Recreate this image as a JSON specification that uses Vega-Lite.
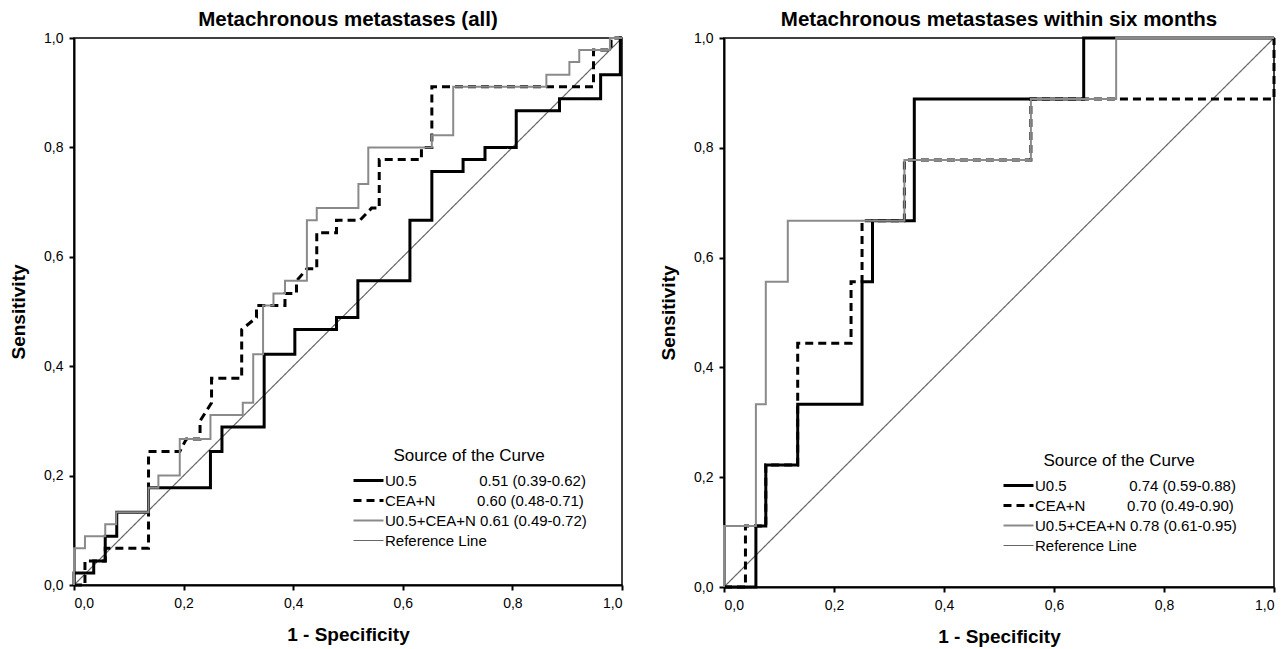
{
"$schema": "https://vega.github.io/schema/vega-lite/v6.json",
"padding": {"left": 8, "top": 8, "right": 5, "bottom": 0},
"spacing": 29,
"datasets": {
"all": [
{"curve":"Reference Line","i":0,"x":0,"y":0},{"curve":"Reference Line","i":1,"x":1,"y":1},
{"curve":"U0.5","i":0,"x":0,"y":0},{"curve":"U0.5","i":1,"x":0,"y":0.022},{"curve":"U0.5","i":2,"x":0.036,"y":0.022},{"curve":"U0.5","i":3,"x":0.036,"y":0.044},{"curve":"U0.5","i":4,"x":0.057,"y":0.044},{"curve":"U0.5","i":5,"x":0.057,"y":0.089},{"curve":"U0.5","i":6,"x":0.078,"y":0.089},{"curve":"U0.5","i":7,"x":0.078,"y":0.133},{"curve":"U0.5","i":8,"x":0.136,"y":0.133},{"curve":"U0.5","i":9,"x":0.136,"y":0.178},{"curve":"U0.5","i":10,"x":0.249,"y":0.178},{"curve":"U0.5","i":11,"x":0.249,"y":0.244},{"curve":"U0.5","i":12,"x":0.27,"y":0.244},{"curve":"U0.5","i":13,"x":0.27,"y":0.289},{"curve":"U0.5","i":14,"x":0.347,"y":0.289},{"curve":"U0.5","i":15,"x":0.347,"y":0.422},{"curve":"U0.5","i":16,"x":0.403,"y":0.422},{"curve":"U0.5","i":17,"x":0.403,"y":0.467},{"curve":"U0.5","i":18,"x":0.479,"y":0.467},{"curve":"U0.5","i":19,"x":0.479,"y":0.489},{"curve":"U0.5","i":20,"x":0.518,"y":0.489},{"curve":"U0.5","i":21,"x":0.518,"y":0.556},{"curve":"U0.5","i":22,"x":0.613,"y":0.556},{"curve":"U0.5","i":23,"x":0.613,"y":0.667},{"curve":"U0.5","i":24,"x":0.653,"y":0.667},{"curve":"U0.5","i":25,"x":0.653,"y":0.756},{"curve":"U0.5","i":26,"x":0.71,"y":0.756},{"curve":"U0.5","i":27,"x":0.71,"y":0.778},{"curve":"U0.5","i":28,"x":0.75,"y":0.778},{"curve":"U0.5","i":29,"x":0.75,"y":0.8},{"curve":"U0.5","i":30,"x":0.807,"y":0.8},{"curve":"U0.5","i":31,"x":0.807,"y":0.867},{"curve":"U0.5","i":32,"x":0.886,"y":0.867},{"curve":"U0.5","i":33,"x":0.886,"y":0.889},{"curve":"U0.5","i":34,"x":0.961,"y":0.889},{"curve":"U0.5","i":35,"x":0.961,"y":0.933},{"curve":"U0.5","i":36,"x":0.997,"y":0.933},{"curve":"U0.5","i":37,"x":0.997,"y":1},{"curve":"U0.5","i":38,"x":1,"y":1},
{"curve":"CEA+N","i":0,"x":0,"y":0},{"curve":"CEA+N","i":1,"x":0.02,"y":0},{"curve":"CEA+N","i":2,"x":0.02,"y":0.044},{"curve":"CEA+N","i":3,"x":0.057,"y":0.044},{"curve":"CEA+N","i":4,"x":0.057,"y":0.067},{"curve":"CEA+N","i":5,"x":0.136,"y":0.067},{"curve":"CEA+N","i":6,"x":0.136,"y":0.244},{"curve":"CEA+N","i":7,"x":0.193,"y":0.244},{"curve":"CEA+N","i":8,"x":0.205,"y":0.267},{"curve":"CEA+N","i":9,"x":0.23,"y":0.267},{"curve":"CEA+N","i":10,"x":0.23,"y":0.3},{"curve":"CEA+N","i":11,"x":0.251,"y":0.333},{"curve":"CEA+N","i":12,"x":0.251,"y":0.378},{"curve":"CEA+N","i":13,"x":0.306,"y":0.378},{"curve":"CEA+N","i":14,"x":0.306,"y":0.467},{"curve":"CEA+N","i":15,"x":0.333,"y":0.489},{"curve":"CEA+N","i":16,"x":0.333,"y":0.511},{"curve":"CEA+N","i":17,"x":0.385,"y":0.511},{"curve":"CEA+N","i":18,"x":0.385,"y":0.533},{"curve":"CEA+N","i":19,"x":0.406,"y":0.533},{"curve":"CEA+N","i":20,"x":0.406,"y":0.556},{"curve":"CEA+N","i":21,"x":0.425,"y":0.578},{"curve":"CEA+N","i":22,"x":0.443,"y":0.578},{"curve":"CEA+N","i":23,"x":0.443,"y":0.644},{"curve":"CEA+N","i":24,"x":0.479,"y":0.644},{"curve":"CEA+N","i":25,"x":0.479,"y":0.667},{"curve":"CEA+N","i":26,"x":0.522,"y":0.667},{"curve":"CEA+N","i":27,"x":0.543,"y":0.689},{"curve":"CEA+N","i":28,"x":0.557,"y":0.689},{"curve":"CEA+N","i":29,"x":0.557,"y":0.778},{"curve":"CEA+N","i":30,"x":0.634,"y":0.778},{"curve":"CEA+N","i":31,"x":0.634,"y":0.8},{"curve":"CEA+N","i":32,"x":0.653,"y":0.8},{"curve":"CEA+N","i":33,"x":0.653,"y":0.911},{"curve":"CEA+N","i":34,"x":0.948,"y":0.911},{"curve":"CEA+N","i":35,"x":0.948,"y":0.978},{"curve":"CEA+N","i":36,"x":0.98,"y":0.978},{"curve":"CEA+N","i":37,"x":0.98,"y":1},{"curve":"CEA+N","i":38,"x":1,"y":1},
{"curve":"U0.5+CEA+N","i":0,"x":0,"y":0},{"curve":"U0.5+CEA+N","i":1,"x":0,"y":0.067},{"curve":"U0.5+CEA+N","i":2,"x":0.02,"y":0.067},{"curve":"U0.5+CEA+N","i":3,"x":0.02,"y":0.089},{"curve":"U0.5+CEA+N","i":4,"x":0.057,"y":0.089},{"curve":"U0.5+CEA+N","i":5,"x":0.057,"y":0.111},{"curve":"U0.5+CEA+N","i":6,"x":0.077,"y":0.111},{"curve":"U0.5+CEA+N","i":7,"x":0.077,"y":0.133},{"curve":"U0.5+CEA+N","i":8,"x":0.136,"y":0.133},{"curve":"U0.5+CEA+N","i":9,"x":0.136,"y":0.178},{"curve":"U0.5+CEA+N","i":10,"x":0.154,"y":0.178},{"curve":"U0.5+CEA+N","i":11,"x":0.154,"y":0.2},{"curve":"U0.5+CEA+N","i":12,"x":0.193,"y":0.2},{"curve":"U0.5+CEA+N","i":13,"x":0.193,"y":0.267},{"curve":"U0.5+CEA+N","i":14,"x":0.249,"y":0.267},{"curve":"U0.5+CEA+N","i":15,"x":0.249,"y":0.311},{"curve":"U0.5+CEA+N","i":16,"x":0.308,"y":0.311},{"curve":"U0.5+CEA+N","i":17,"x":0.308,"y":0.333},{"curve":"U0.5+CEA+N","i":18,"x":0.327,"y":0.333},{"curve":"U0.5+CEA+N","i":19,"x":0.327,"y":0.422},{"curve":"U0.5+CEA+N","i":20,"x":0.345,"y":0.422},{"curve":"U0.5+CEA+N","i":21,"x":0.345,"y":0.511},{"curve":"U0.5+CEA+N","i":22,"x":0.364,"y":0.511},{"curve":"U0.5+CEA+N","i":23,"x":0.364,"y":0.533},{"curve":"U0.5+CEA+N","i":24,"x":0.385,"y":0.533},{"curve":"U0.5+CEA+N","i":25,"x":0.385,"y":0.556},{"curve":"U0.5+CEA+N","i":26,"x":0.425,"y":0.556},{"curve":"U0.5+CEA+N","i":27,"x":0.425,"y":0.667},{"curve":"U0.5+CEA+N","i":28,"x":0.443,"y":0.667},{"curve":"U0.5+CEA+N","i":29,"x":0.443,"y":0.689},{"curve":"U0.5+CEA+N","i":30,"x":0.519,"y":0.689},{"curve":"U0.5+CEA+N","i":31,"x":0.519,"y":0.733},{"curve":"U0.5+CEA+N","i":32,"x":0.537,"y":0.733},{"curve":"U0.5+CEA+N","i":33,"x":0.537,"y":0.8},{"curve":"U0.5+CEA+N","i":34,"x":0.653,"y":0.8},{"curve":"U0.5+CEA+N","i":35,"x":0.653,"y":0.822},{"curve":"U0.5+CEA+N","i":36,"x":0.692,"y":0.822},{"curve":"U0.5+CEA+N","i":37,"x":0.692,"y":0.911},{"curve":"U0.5+CEA+N","i":38,"x":0.862,"y":0.911},{"curve":"U0.5+CEA+N","i":39,"x":0.862,"y":0.933},{"curve":"U0.5+CEA+N","i":40,"x":0.904,"y":0.933},{"curve":"U0.5+CEA+N","i":41,"x":0.904,"y":0.956},{"curve":"U0.5+CEA+N","i":42,"x":0.922,"y":0.956},{"curve":"U0.5+CEA+N","i":43,"x":0.922,"y":0.978},{"curve":"U0.5+CEA+N","i":44,"x":0.978,"y":0.978},{"curve":"U0.5+CEA+N","i":45,"x":0.978,"y":1},{"curve":"U0.5+CEA+N","i":46,"x":1,"y":1}
],
"six": [
{"curve":"Reference Line","i":0,"x":0,"y":0},{"curve":"Reference Line","i":1,"x":1,"y":1},
{"curve":"U0.5","i":0,"x":0,"y":0},{"curve":"U0.5","i":1,"x":0.058,"y":0},{"curve":"U0.5","i":2,"x":0.058,"y":0.111},{"curve":"U0.5","i":3,"x":0.076,"y":0.111},{"curve":"U0.5","i":4,"x":0.076,"y":0.222},{"curve":"U0.5","i":5,"x":0.134,"y":0.222},{"curve":"U0.5","i":6,"x":0.134,"y":0.333},{"curve":"U0.5","i":7,"x":0.251,"y":0.333},{"curve":"U0.5","i":8,"x":0.251,"y":0.556},{"curve":"U0.5","i":9,"x":0.27,"y":0.556},{"curve":"U0.5","i":10,"x":0.27,"y":0.667},{"curve":"U0.5","i":11,"x":0.346,"y":0.667},{"curve":"U0.5","i":12,"x":0.346,"y":0.889},{"curve":"U0.5","i":13,"x":0.654,"y":0.889},{"curve":"U0.5","i":14,"x":0.654,"y":1},{"curve":"U0.5","i":15,"x":1,"y":1},
{"curve":"CEA+N","i":0,"x":0,"y":0},{"curve":"CEA+N","i":1,"x":0.039,"y":0},{"curve":"CEA+N","i":2,"x":0.039,"y":0.111},{"curve":"CEA+N","i":3,"x":0.076,"y":0.111},{"curve":"CEA+N","i":4,"x":0.076,"y":0.222},{"curve":"CEA+N","i":5,"x":0.134,"y":0.222},{"curve":"CEA+N","i":6,"x":0.134,"y":0.444},{"curve":"CEA+N","i":7,"x":0.231,"y":0.444},{"curve":"CEA+N","i":8,"x":0.231,"y":0.556},{"curve":"CEA+N","i":9,"x":0.251,"y":0.556},{"curve":"CEA+N","i":10,"x":0.251,"y":0.667},{"curve":"CEA+N","i":11,"x":0.328,"y":0.667},{"curve":"CEA+N","i":12,"x":0.328,"y":0.778},{"curve":"CEA+N","i":13,"x":0.558,"y":0.778},{"curve":"CEA+N","i":14,"x":0.558,"y":0.889},{"curve":"CEA+N","i":15,"x":1,"y":0.889},{"curve":"CEA+N","i":16,"x":1,"y":1},
{"curve":"U0.5+CEA+N","i":0,"x":0,"y":0},{"curve":"U0.5+CEA+N","i":1,"x":0,"y":0.111},{"curve":"U0.5+CEA+N","i":2,"x":0.058,"y":0.111},{"curve":"U0.5+CEA+N","i":3,"x":0.058,"y":0.333},{"curve":"U0.5+CEA+N","i":4,"x":0.076,"y":0.333},{"curve":"U0.5+CEA+N","i":5,"x":0.076,"y":0.556},{"curve":"U0.5+CEA+N","i":6,"x":0.116,"y":0.556},{"curve":"U0.5+CEA+N","i":7,"x":0.116,"y":0.667},{"curve":"U0.5+CEA+N","i":8,"x":0.328,"y":0.667},{"curve":"U0.5+CEA+N","i":9,"x":0.328,"y":0.778},{"curve":"U0.5+CEA+N","i":10,"x":0.558,"y":0.778},{"curve":"U0.5+CEA+N","i":11,"x":0.558,"y":0.889},{"curve":"U0.5+CEA+N","i":12,"x":0.713,"y":0.889},{"curve":"U0.5+CEA+N","i":13,"x":0.713,"y":1},{"curve":"U0.5+CEA+N","i":14,"x":1,"y":1}
]
},
"hconcat": [
{
"width": 548, "height": 547,
"title": {"text": "Metachronous metastases (all)"},
"data": {"name": "all"},
"mark": {"type": "line"},
"encoding": {
"x": {"field": "x", "type": "quantitative", "scale": {"domain": [0, 1], "nice": false, "zero": false}, "axis": {"title": "1 - Specificity", "values": [0, 0.2, 0.4, 0.6, 0.8, 1], "labelExpr": "replace(format(datum.value, '.1f'), '.', ',')"}},
"y": {"field": "y", "type": "quantitative", "scale": {"domain": [0, 1], "nice": false, "zero": false}, "axis": {"title": "Sensitivity", "values": [0, 0.2, 0.4, 0.6, 0.8, 1], "labelExpr": "replace(format(datum.value, '.1f'), '.', ',')"}},
"order": {"field": "i", "type": "quantitative"},
"color": {"field": "curve", "type": "nominal", "scale": {"domain": ["U0.5", "CEA+N", "U0.5+CEA+N", "Reference Line"], "range": ["#000000", "#000000", "#8a8a8a", "#666666"]},
  "legend": {"title": "Source of the Curve", "orient": "none", "legendX": 277, "legendY": 410,
    "labelExpr": "datum.label == 'U0.5' ? 'U0.5\u00a0\u00a0\u00a0\u00a0\u00a0\u00a0\u00a0\u00a0\u00a0\u00a0\u00a0\u00a0\u00a0\u00a0\u00a00.51 (0.39-0.62)' : datum.label == 'CEA+N' ? 'CEA+N\u00a0\u00a0\u00a0\u00a0\u00a0\u00a0\u00a0\u00a0\u00a0\u00a00.60 (0.48-0.71)' : datum.label == 'U0.5+CEA+N' ? 'U0.5+CEA+N\u00a00.61 (0.49-0.72)' : datum.label"}},
"strokeDash": {"field": "curve", "type": "nominal", "scale": {"domain": ["U0.5", "CEA+N", "U0.5+CEA+N", "Reference Line"], "range": [[1, 0], [8, 5], [1, 0], [1, 0]]}},
"strokeWidth": {"condition": [{"test": "datum.curve == 'Reference Line'", "value": 1.2}, {"test": "datum.curve == 'U0.5+CEA+N'", "value": 2}], "value": 3}
}
},
{
"width": 550, "height": 549,
"title": {"text": "Metachronous metastases within six months"},
"data": {"name": "six"},
"mark": {"type": "line"},
"encoding": {
"x": {"field": "x", "type": "quantitative", "scale": {"domain": [0, 1], "nice": false, "zero": false}, "axis": {"title": "1 - Specificity", "values": [0, 0.2, 0.4, 0.6, 0.8, 1], "labelExpr": "replace(format(datum.value, '.1f'), '.', ',')"}},
"y": {"field": "y", "type": "quantitative", "scale": {"domain": [0, 1], "nice": false, "zero": false}, "axis": {"title": "Sensitivity", "values": [0, 0.2, 0.4, 0.6, 0.8, 1], "labelExpr": "replace(format(datum.value, '.1f'), '.', ',')"}},
"order": {"field": "i", "type": "quantitative"},
"color": {"field": "curve", "type": "nominal", "scale": {"domain": ["U0.5", "CEA+N", "U0.5+CEA+N", "Reference Line"], "range": ["#000000", "#000000", "#8a8a8a", "#666666"]},
  "legend": {"title": "Source of the Curve", "orient": "none", "legendX": 277, "legendY": 415,
    "labelExpr": "datum.label == 'U0.5' ? 'U0.5\u00a0\u00a0\u00a0\u00a0\u00a0\u00a0\u00a0\u00a0\u00a0\u00a0\u00a0\u00a0\u00a0\u00a0\u00a00.74 (0.59-0.88)' : datum.label == 'CEA+N' ? 'CEA+N\u00a0\u00a0\u00a0\u00a0\u00a0\u00a0\u00a0\u00a0\u00a0\u00a00.70 (0.49-0.90)' : datum.label == 'U0.5+CEA+N' ? 'U0.5+CEA+N\u00a00.78 (0.61-0.95)' : datum.label"}},
"strokeDash": {"field": "curve", "type": "nominal", "scale": {"domain": ["U0.5", "CEA+N", "U0.5+CEA+N", "Reference Line"], "range": [[1, 0], [8, 5], [1, 0], [1, 0]]}},
"strokeWidth": {"condition": [{"test": "datum.curve == 'Reference Line'", "value": 1.2}, {"test": "datum.curve == 'U0.5+CEA+N'", "value": 2}], "value": 3}
}
}
],
"resolve": {"scale": {"color": "independent", "strokeDash": "independent"}},
"config": {
"font": "Liberation Sans",
"view": {"stroke": "#000000", "strokeWidth": 1.5},
"title": {"fontSize": 20.5, "fontWeight": "bold", "font": "Liberation Sans", "color": "#000000", "anchor": "middle", "offset": 1},
"axis": {"grid": false, "domainColor": "#000000", "domainWidth": 2, "tickColor": "#000000", "tickWidth": 2, "tickSize": 5, "labelFont": "Liberation Sans", "labelFontSize": 14, "labelColor": "#000000", "labelPadding": 6, "titleFont": "Liberation Sans", "titleFontSize": 19, "titleFontWeight": "bold", "titleColor": "#000000", "titlePadding": 15},
"legend": {"titleFont": "Liberation Sans", "titleFontSize": 17, "titleFontWeight": "normal", "titleColor": "#000000", "titleAnchor": "middle", "titlePadding": 8, "labelFont": "Liberation Sans", "labelFontSize": 15, "labelColor": "#000000", "labelOffset": 19, "symbolSize": 100, "symbolType": "M-1,0L5,0", "symbolStrokeWidth": {"expr": "datum.value == 'Reference Line' ? 1.2 : datum.value == 'U0.5+CEA+N' ? 2 : 3"}, "rowPadding": 4, "padding": 0, "labelLimit": 400}
}
}
